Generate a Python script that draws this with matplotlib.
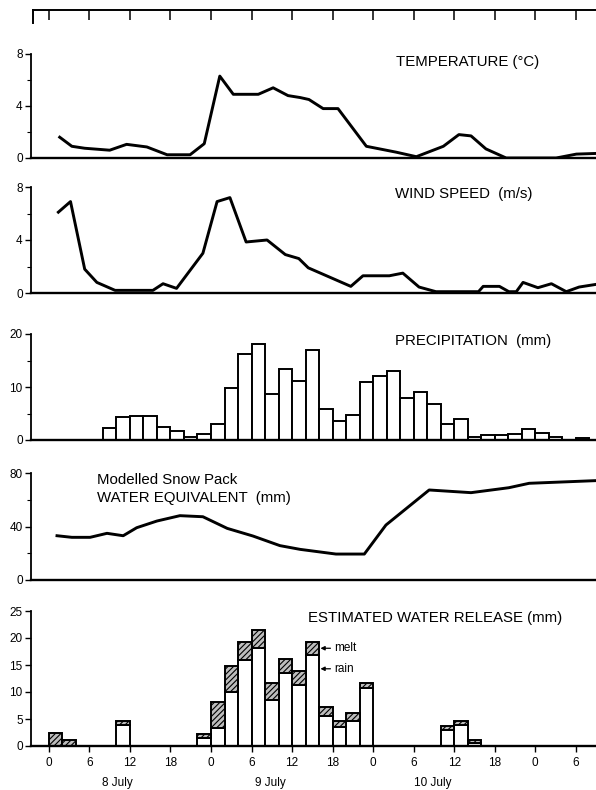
import matplotlib
matplotlib.use("Agg")
import matplotlib.pyplot as plt
from matplotlib.ticker import MultipleLocator

plt.rcParams["font.family"] = ["Liberation Sans", "DejaVu Sans"]
plt.rcParams["hatch.linewidth"] = 0.8

# hours since 00:00 8 July
temp_h = [1.6, 3.4, 5.3, 9.0, 11.5, 14.5, 17.5, 20.9, 23.0, 25.3, 27.3, 31.0, 33.2, 35.4,
          37.2, 38.5, 40.6, 42.8, 47.0, 51.4, 54.4, 58.4, 60.7, 62.5, 64.7, 67.7, 75.1, 78.1, 81.0]
temp_c = [1.6, 0.9, 0.75, 0.6, 1.05, 0.85, 0.25, 0.25, 1.1, 6.3, 4.9, 4.9, 5.4, 4.8,
          4.65, 4.5, 3.8, 3.8, 0.9, 0.45, 0.1, 0.9, 1.8, 1.7, 0.7, 0.0, 0.0, 0.3, 0.35]

wind_h = [1.4, 3.2, 5.3, 7.1, 9.8, 15.4, 16.9, 18.9, 22.8, 24.9, 26.8, 29.2, 32.3, 35.0,
          37.0, 38.4, 44.7, 46.5, 50.4, 52.4, 54.8, 57.3, 63.6, 64.3, 66.7, 68.1, 69.2,
          70.2, 72.4, 74.4, 76.6, 78.5, 81.0]
wind_ms = [6.1, 6.9, 1.8, 0.8, 0.2, 0.2, 0.7, 0.35, 3.0, 6.9, 7.2, 3.85, 4.0, 2.9,
           2.6, 1.9, 0.5, 1.3, 1.3, 1.5, 0.45, 0.1, 0.1, 0.5, 0.5, 0.1, 0.1,
           0.8, 0.4, 0.7, 0.1, 0.45, 0.65]

# 2-hour bins, left edge in hours
precip_h = [8, 10, 12, 14, 16, 18, 20, 22, 24, 26, 28, 30, 32, 34, 36, 38, 40, 42,
            44, 46, 48, 50, 52, 54, 56, 58, 60, 62, 64, 66, 68, 70, 72, 74, 76, 78]
precip_mm = [2.2, 4.3, 4.6, 4.6, 2.4, 1.75, 0.6, 1.1, 3.0, 9.9, 16.2, 18.1, 8.6, 13.4, 11.2, 17.0, 5.8, 3.6,
             4.7, 10.9, 12.1, 13.0, 8.0, 9.0, 6.7, 3.0, 3.9, 0.6, 0.9, 0.9, 1.1, 2.0, 1.3, 0.6, 0.0, 0.3]

swe_h = [1.2, 3.4, 6.1, 8.6, 11.0, 13.0, 16.0, 19.4, 22.8, 26.4, 30.2, 34.2, 37.2,
         42.5, 46.7, 49.9, 56.3, 62.5, 68.1, 71.1, 81.0]
swe_mm = [33.1, 31.9, 31.9, 34.9, 33.1, 39.1, 44.1, 48.1, 47.3, 38.6, 32.9, 25.7, 22.9,
          19.4, 19.4, 41.1, 67.3, 65.3, 69.0, 72.3, 74.3]

release_h = [0, 2, 10, 22, 24, 26, 28, 30, 32, 34, 36, 38, 40, 42, 44, 46, 58, 60, 62]
rain_mm = [0.0, 0.0, 3.9, 1.4, 3.4, 10.0, 16.0, 18.1, 8.5, 13.6, 11.3, 16.9, 5.6, 3.6, 4.6, 10.7, 3.0, 3.9, 0.5]
melt_mm = [2.4, 1.1, 0.7, 0.9, 4.8, 4.8, 3.3, 3.4, 3.1, 2.6, 2.6, 2.4, 1.6, 1.1, 1.5, 1.0, 0.7, 0.8, 0.7]

xtick_h = [0, 6, 12, 18, 24, 30, 36, 42, 48, 54, 60, 66, 72, 78]
xtick_lbl = ["0", "6", "12", "18", "0", "6", "12", "18", "0", "6", "12", "18", "0", "6"]
days = ["8 July", "9 July", "10 July"]

XMIN, XMAX = -2.65, 81.0
W, H = 596, 790
FS = 10.8

fig = plt.figure(figsize=(W / 100, H / 100), dpi=100)


def panel(top_px, bot_px):
    ax = fig.add_axes([31 / W, 1 - bot_px / H, (W - 31) / W, (bot_px - top_px) / H])
    ax.set_xlim(XMIN, XMAX)
    for s in ("top", "right"):
        ax.spines[s].set_visible(False)
    ax.spines["left"].set_linewidth(1.3)
    ax.spines["bottom"].set_linewidth(1.7)
    ax.tick_params(axis="y", direction="out", length=4, width=1.0, labelsize=8.5, pad=2)
    ax.tick_params(axis="y", which="minor", direction="out", length=3, width=0.8)
    ax.tick_params(axis="x", bottom=False, labelbottom=False)
    return ax


# top frame with tick marks
axt = fig.add_axes([33 / W, 1 - 23 / H, (W - 33) / W, 13 / H])
axt.set_xlim(XMIN + 0.3, XMAX)
axt.set_ylim(0, 1)
for s in ("bottom", "right"):
    axt.spines[s].set_visible(False)
axt.spines["top"].set_linewidth(1.4)
axt.spines["left"].set_linewidth(1.4)
axt.set_yticks([])
axt.set_xticks(xtick_h)
axt.tick_params(axis="x", bottom=False, labelbottom=False, top=True, direction="in", length=7, width=1.1)

# temperature
ax1 = panel(54, 158)
ax1.plot(temp_h, temp_c, color="k", lw=2.1)
ax1.set_ylim(0, 8)
ax1.set_yticks([0, 4, 8])
ax1.yaxis.set_minor_locator(MultipleLocator(2))
fig.text(468 / W, 1 - 62 / H, "TEMPERATURE (°C)", ha="center", va="center", fontsize=FS)

# wind
ax2 = panel(187, 293)
ax2.plot(wind_h, wind_ms, color="k", lw=2.1)
ax2.set_ylim(0, 8)
ax2.set_yticks([0, 4, 8])
ax2.yaxis.set_minor_locator(MultipleLocator(2))
fig.text(464 / W, 1 - 194 / H, "WIND SPEED  (m/s)", ha="center", va="center", fontsize=FS)

# precipitation
ax3 = panel(334, 440)
ax3.bar(precip_h, precip_mm, width=2, align="edge", facecolor="white", edgecolor="k", lw=1.4)
ax3.set_ylim(0, 20)
ax3.set_yticks([0, 10, 20])
ax3.yaxis.set_minor_locator(MultipleLocator(5))
fig.text(473 / W, 1 - 341 / H, "PRECIPITATION  (mm)", ha="center", va="center", fontsize=FS)

# snow water equivalent
ax4 = panel(473, 580)
ax4.plot(swe_h, swe_mm, color="k", lw=2.1)
ax4.set_ylim(0, 80)
ax4.set_yticks([0, 40, 80])
ax4.yaxis.set_minor_locator(MultipleLocator(20))
fig.text(97 / W, 1 - 480 / H, "Modelled Snow Pack", ha="left", va="center", fontsize=FS)
fig.text(97 / W, 1 - 498 / H, "WATER EQUIVALENT  (mm)", ha="left", va="center", fontsize=FS)

# water release
ax5 = panel(611, 746)
ax5.bar(release_h, rain_mm, width=2, align="edge", facecolor="white", edgecolor="k", lw=1.4)
ax5.bar(release_h, melt_mm, width=2, align="edge", bottom=rain_mm, facecolor="#bdbdbd",
        edgecolor="k", hatch="//////", lw=1.4)
ax5.set_ylim(0, 25)
ax5.set_yticks([0, 5, 10, 15, 20, 25])
ax5.set_xticks(xtick_h)
ax5.set_xticklabels(xtick_lbl)
ax5.tick_params(axis="x", bottom=True, labelbottom=True, direction="out", length=4, width=1.0,
                labelsize=8.5, pad=4)
fig.text(435 / W, 1 - 618 / H, "ESTIMATED WATER RELEASE (mm)", ha="center", va="center", fontsize=FS)

i = release_h.index(38)
for lbl, yv in (("melt", rain_mm[i] + melt_mm[i] / 2), ("rain", 14.3)):
    ax5.annotate(lbl, xy=(40.2, yv), xytext=(42.3, yv), va="center", ha="left", fontsize=8.5,
                 arrowprops=dict(arrowstyle="-|>", lw=0.9, color="k", shrinkA=1, shrinkB=0,
                                 mutation_scale=6))

for xpx, d in zip((117, 270, 433), days):
    fig.text(xpx / W, 1 - 783 / H, d, ha="center", va="center", fontsize=8.5)

fig.savefig("out.png", dpi=100)
